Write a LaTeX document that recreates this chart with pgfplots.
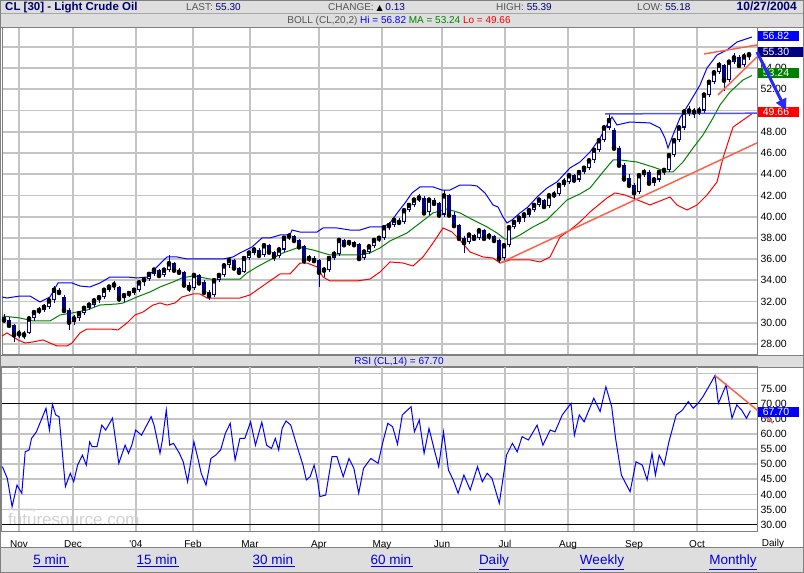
\documentclass[border=0pt]{standalone}
\usepackage{pgfplots}
\pgfplotsset{compat=1.18}
\usepackage{pgfplotstable}
\usetikzlibrary{arrows.meta}
\usepackage{fontspec}
\setmainfont{Liberation Sans}
\newfontfamily\dejavu{DejaVu Sans}
\definecolor{navy}{RGB}{0,0,128}
\definecolor{hdr}{RGB}{222,222,222}
\definecolor{gridgray}{RGB}{196,196,196}
\definecolor{frm}{RGB}{128,128,128}
\definecolor{bblue}{RGB}{0,0,255}
\definecolor{bgreen}{RGB}{0,128,0}
\definecolor{bred}{RGB}{255,0,0}
\definecolor{trend}{RGB}{250,100,75}
\definecolor{resblue}{RGB}{80,80,255}
\definecolor{lnk}{RGB}{0,0,230}
\definecolor{hgray}{RGB}{85,85,85}
\definecolor{hval}{RGB}{0,0,110}
\definecolor{wm}{RGB}{210,210,210}

\pgfplotstableread{
x o h l c
4 30.5 30.8 30.0 30.3
9 30.3 30.5 29.6 29.8
14 29.8 29.9 28.2 28.9
19 28.9 29.3 28.6 29.0
24 29.0 29.2 28.5 28.9
29 29.0 30.6 28.9 30.4
34 30.4 31.2 30.2 31.0
39 31.0 31.5 30.8 31.2
44 31.2 31.8 31.0 31.5
49 31.5 32.4 31.3 32.1
54 32.1 33.5 31.9 33.1
59 33.1 33.3 32.6 32.9
64 32.4 32.6 31.0 31.2
69 31.2 31.4 29.3 30.1
74 30.1 30.7 29.8 30.4
79 30.4 31.1 30.2 30.9
84 30.9 31.6 30.7 31.4
89 31.4 31.9 31.2 31.7
94 31.7 32.3 31.5 32.1
99 32.1 32.6 31.9 32.4
104 32.4 33.3 32.2 33.1
109 33.1 33.6 32.9 33.4
114 33.4 33.9 33.1 33.6
119 33.4 33.5 32.0 32.3
124 32.3 32.8 32.0 32.6
129 32.6 33.0 32.4 32.8
134 32.8 33.3 32.6 33.1
139 33.1 34.0 32.9 33.8
144 33.8 34.3 33.5 34.1
149 34.1 34.8 33.9 34.6
154 34.6 35.2 34.4 35.0
159 35.0 35.1 34.2 34.5
164 34.5 35.2 34.3 35.0
169 35.0 36.4 34.8 35.6
174 35.6 35.7 34.8 35.0
179 35.0 35.2 34.5 34.8
184 34.8 34.9 33.4 33.6
189 33.6 33.8 32.9 33.3
194 33.3 34.7 33.1 34.5
199 34.5 34.6 33.6 33.8
204 33.8 34.0 32.7 32.9
209 32.9 33.1 32.1 32.6
214 32.6 34.2 32.4 34.0
219 34.0 34.7 33.8 34.5
224 34.5 35.6 34.3 35.4
229 35.4 36.1 35.2 35.9
234 35.9 36.0 35.0 35.2
239 35.2 35.3 34.5 34.8
244 34.8 36.3 34.7 36.1
249 36.1 36.8 35.9 36.6
254 36.6 37.1 36.4 36.9
259 36.9 37.0 36.2 36.4
264 36.4 37.5 36.2 37.3
269 37.3 37.4 36.5 36.7
274 36.7 36.8 35.8 36.3
279 36.3 37.1 36.1 36.9
284 36.9 38.2 36.7 38.0
289 38.0 38.5 37.8 38.2
294 38.2 38.3 37.6 37.8
299 37.8 37.9 37.0 37.2
304 37.2 37.3 35.5 35.9
309 35.9 36.4 35.7 36.1
314 36.1 36.3 35.6 35.9
319 35.9 36.0 33.4 34.8
324 34.8 35.3 34.3 35.0
329 35.0 36.3 34.8 36.1
334 36.1 36.8 35.9 36.5
339 36.5 38.0 36.3 37.8
344 37.8 37.9 37.2 37.4
349 37.4 37.8 37.2 37.6
354 37.6 37.7 37.1 37.4
359 37.4 37.5 35.9 36.1
364 36.1 36.9 35.9 36.7
369 36.7 37.4 36.5 37.2
374 37.2 38.0 37.0 37.8
379 37.8 38.2 37.6 38.0
384 38.0 39.2 37.8 39.0
389 39.0 39.5 38.7 39.2
394 39.2 39.9 39.0 39.7
399 39.7 39.9 39.2 39.5
404 39.5 40.8 39.3 40.6
409 40.6 41.3 40.4 41.1
414 41.1 41.8 40.9 41.6
419 41.6 42.1 41.4 41.8
424 41.8 41.9 40.2 40.4
429 40.4 41.8 40.2 41.6
434 41.6 41.8 41.0 41.3
439 41.3 41.4 39.9 40.2
444 40.2 42.5 40.0 42.0
449 42.0 42.1 40.0 40.2
454 40.2 40.4 39.0 39.2
459 39.2 39.3 37.8 38.0
464 38.0 38.2 36.6 37.6
469 37.6 38.5 37.4 38.3
474 38.3 38.4 37.7 38.0
479 38.0 38.9 37.8 38.7
484 38.7 38.8 37.8 38.0
489 38.0 38.5 37.8 38.2
494 38.2 38.3 37.5 37.8
499 37.8 37.9 35.6 36.1
504 36.1 37.5 35.9 37.3
509 37.3 39.2 37.1 39.0
514 39.0 39.7 38.8 39.5
519 39.5 40.1 39.3 39.9
524 39.9 40.4 39.5 40.2
529 40.2 40.8 40.0 40.6
534 40.6 41.3 40.4 41.1
539 41.1 41.8 40.9 41.6
544 41.6 41.7 40.7 41.0
549 41.0 42.2 40.8 42.0
554 42.0 42.4 41.8 42.1
559 42.1 43.2 41.9 43.0
564 43.0 43.6 42.8 43.3
569 43.3 44.1 43.1 43.9
574 43.9 44.0 43.2 43.5
579 43.5 44.4 43.3 44.2
584 44.2 44.8 44.0 44.6
589 44.6 45.5 44.4 45.3
594 45.3 46.5 45.1 46.3
599 46.3 47.4 46.1 47.2
604 47.2 48.6 47.0 48.4
609 48.4 49.7 48.2 49.1
614 48.2 48.4 46.3 46.5
619 46.5 46.7 44.7 44.9
624 44.9 45.1 43.4 43.6
629 43.6 44.0 42.8 43.0
634 43.0 43.2 41.6 42.3
639 42.3 44.1 42.1 43.9
644 43.9 44.5 43.7 44.2
649 44.2 44.4 43.0 43.2
654 43.2 43.7 42.9 43.5
659 43.5 44.4 43.3 44.2
664 44.2 44.6 43.9 44.4
669 44.4 46.0 44.2 45.8
674 45.8 47.4 45.6 47.2
679 47.2 48.6 47.0 48.4
684 48.4 50.1 48.2 49.9
689 49.9 50.4 49.5 50.0
694 50.0 50.2 49.3 49.9
699 49.9 50.3 49.6 50.0
704 50.0 51.7 49.8 51.5
709 51.5 52.9 51.3 52.7
714 52.7 53.8 52.5 53.6
719 53.6 54.6 53.4 54.3
724 54.3 54.4 51.8 52.9
729 52.9 54.8 52.7 54.6
734 54.6 55.4 54.4 55.0
739 55.0 55.2 54.1 54.3
744 54.3 55.4 54.1 55.1
749 55.1 55.4 54.8 55.3
}\candles

\pgfplotstableread{
x y
2 32.43
7 32.33
20 32.52
30 32.52
40 31.96
50 32.43
58 33.75
72 33.75
80 33.46
90 33.37
100 33.75
110 34.31
127 34.31
137 34.22
147 34.31
157 35.26
167 36.20
177 36.20
187 36.01
200 36.01
223 36.01
233 36.20
240 36.58
252 37.14
262 37.99
270 37.99
280 38.27
290 38.27
292 38.74
300 38.55
317 38.55
323 38.93
337 38.93
350 38.74
360 38.74
370 39.03
383 39.03
390 39.40
398 40.44
405 41.29
412 42.23
420 42.80
433 42.80
442 42.51
450 42.51
460 42.98
470 42.98
477 42.89
485 42.23
493 41.10
498 40.91
503 39.97
507 39.40
512 39.69
520 40.35
528 40.91
537 41.85
547 42.70
557 43.27
570 44.59
580 45.15
590 46.09
600 47.41
607 48.64
612 49.39
617 48.64
630 48.92
650 48.83
660 48.36
665 47.41
668 46.47
673 47.70
680 49.30
690 50.81
700 52.41
707 54.01
717 55.24
727 55.71
737 56.46
752 56.93
}\bbup

\pgfplotstableread{
x y
2 30.64
20 30.45
33 30.17
50 30.17
60 30.73
72 30.92
87 31.20
100 31.67
117 31.77
123 31.86
137 32.43
150 32.90
160 33.37
173 33.84
182 34.22
193 34.41
200 34.31
210 34.12
240 34.12
247 34.69
257 35.26
270 35.92
283 36.58
297 37.05
303 37.05
313 36.86
323 36.58
330 36.39
357 36.39
370 36.58
380 37.05
390 37.71
407 38.46
420 39.40
433 40.35
447 40.72
460 40.35
473 39.69
487 39.03
497 38.46
505 37.89
512 37.89
520 38.27
533 39.03
547 39.69
557 40.63
567 41.57
580 42.14
590 42.70
603 44.21
613 45.34
620 45.34
637 45.15
653 44.68
667 44.21
673 44.21
683 45.15
693 46.47
703 47.70
713 49.30
720 50.52
730 51.75
743 52.88
752 53.30
}\bbmid

\pgfplotstableread{
x y
2 28.75
7 29.04
18 28.38
25 28.09
33 28.19
43 28.38
50 28.09
57 27.81
67 27.81
72 28.09
80 29.04
87 29.41
110 29.41
118 29.32
127 29.98
135 30.73
143 31.01
153 31.67
160 31.86
167 31.67
175 31.86
182 32.43
193 32.71
200 32.71
207 32.33
240 32.33
250 32.62
267 33.75
280 34.60
290 34.60
300 35.63
307 35.63
317 35.26
323 34.31
330 33.94
357 33.94
370 34.12
380 34.78
390 35.73
403 35.63
413 35.35
423 36.20
433 37.52
443 38.93
452 38.55
460 37.80
470 36.67
483 36.20
493 36.10
500 35.63
510 35.92
530 35.92
540 35.73
550 36.20
560 38.08
570 38.74
580 39.50
590 40.44
607 41.76
615 42.23
625 42.04
650 41.10
670 41.85
677 41.10
687 40.63
697 41.10
707 42.04
717 43.27
723 45.53
733 48.44
752 49.70
}\bblo

\pgfplotstableread{
x y
2.4 49.2
7.3 45.3
12.1 36.0
17.0 43.1
21.8 40.4
25.2 54.1
29.1 54.7
31.5 58.5
36.4 60.7
41.2 64.6
46.0 68.5
49.4 61.3
52.4 69.8
55.7 66.3
59.1 65.7
65.4 42.6
70.3 47.0
73.7 44.2
77.6 49.7
82.4 53.0
86.3 49.7
89.7 57.4
92.1 55.8
97.0 55.8
101.8 62.9
105.7 61.3
112.5 65.2
118.8 50.3
125.1 56.3
128.5 53.6
131.8 56.3
135.7 61.3
141.5 59.6
151.2 65.7
154.1 62.9
160.0 53.6
162.4 58.0
166.3 67.9
169.7 56.3
173.5 56.9
179.4 53.6
183.2 50.8
187.6 44.2
193.9 57.4
198.7 50.8
201.2 47.0
206.0 43.1
210.9 51.9
215.7 53.0
220.6 54.7
225.4 60.2
230.2 63.5
235.1 51.4
239.9 58.5
244.8 58.5
250.6 64.0
255.5 56.3
261.8 63.9
266.6 56.3
271.5 55.2
275.3 58.5
278.7 54.7
282.1 61.8
286.0 64.3
290.8 62.9
296.7 56.3
303.0 49.7
306.3 44.8
310.2 45.9
314.1 49.7
317.5 44.8
319.9 39.3
325.7 39.8
332.0 52.5
336.9 52.5
343.2 45.9
349.0 51.9
353.9 48.6
358.7 40.4
363.5 48.6
370.8 51.9
378.1 50.3
382.9 57.4
387.8 63.5
392.6 62.4
397.5 56.6
402.3 66.3
411.1 69.0
414.4 60.7
419.3 64.6
424.1 53.6
429.0 61.8
434.8 54.1
438.7 49.2
443.5 60.7
448.4 48.1
453.2 44.8
458.1 40.4
463.9 46.4
470.2 41.5
477.5 49.2
482.3 44.2
487.2 47.0
492.0 45.3
499.3 37.1
506.5 53.0
512.4 56.9
517.2 54.1
522.1 59.1
528.4 58.0
537.1 62.9
542.9 56.3
550.2 61.3
555.0 60.7
562.3 66.3
571.0 70.1
574.4 59.6
579.3 66.3
584.1 64.0
593.8 71.8
600.1 67.4
605.9 75.6
611.7 69.0
615.6 58.5
621.4 46.4
630.1 40.9
636.0 50.8
642.3 49.7
647.1 44.8
652.0 53.6
655.4 46.4
659.2 53.0
664.1 49.7
668.9 57.4
676.2 66.3
682.5 67.9
688.3 70.7
693.2 68.5
698.0 70.1
702.9 72.3
708.7 75.6
715.0 79.3
718.4 70.1
726.1 76.2
732.0 65.2
736.8 69.6
741.6 67.9
746.5 65.2
750.4 67.7
}\rsi

\newcommand{\tl}{\fontsize{10.5}{12}\selectfont}
\newcommand{\hd}{\fontsize{10}{12}\selectfont}

\pgfplotsset{
  chartax/.style={
    anchor=south west, scale only axis, width=755pt,
    xmin=2, xmax=757,
    xtick={19,73,136,193,250,319,382,442,505,568,634,697},
    yticklabel pos=right,
    y tick label style={anchor=west, font=\tl},
    tick style={draw=none},
    axis line style={draw=frm, line width=1pt},
    clip=false,
  }
}

\begin{document}
\begin{tikzpicture}[x=1pt,y=1pt]
\useasboundingbox (0,0) rectangle (804,573);
\fill[white] (0,0) rectangle (804,573);
% header bands
\fill[hdr] (0,545) rectangle (804,573);
\draw[frm!70, line width=1pt] (0,559) -- (804,559);
\draw[frm, line width=1pt] (0,545) -- (804,545);
\fill[hdr] (0,206) rectangle (804,218);
\draw[frm, line width=0.8pt] (0,218) -- (804,218);
\draw[frm, line width=0.8pt] (0,206) -- (804,206);
\fill[hdr] (0,0) rectangle (804,25);
\draw[frm, line width=1pt] (0,25) -- (804,25);
% grid of both panels (filled strips)
\foreach \gx in {19,73,136,193,250,319,382,442,505,568,634,697} {
  \fill[gridgray] ({\gx-0.9},218) rectangle ({\gx+0.9},545);
  \fill[gridgray] ({\gx-0.9},41) rectangle ({\gx+0.9},206);
}
\foreach \gp in {28,30,32,34,36,38,40,42,44,46,48,50,52,54,56}
  \fill[gridgray] (2,{218+(\gp-26.96)*10.610-0.9}) rectangle (757,{218+(\gp-26.96)*10.610+0.9});
\foreach \gr in {35,40,45,50,55,60,65,75,80}
  \fill[gridgray] (2,{41+(\gr-27.59)*3.0253-0.9}) rectangle (757,{41+(\gr-27.59)*3.0253+0.9});
% header text
\node[anchor=base west, inner sep=0, text=hval, font=\fontsize{11.5}{13}\selectfont\bfseries] at (5,562) {CL [30] - Light Crude Oil};
\node[anchor=base west, inner sep=0, font=\hd] at (186,562.5) {\textcolor{hgray}{LAST:} \textcolor{hval}{55.30}};
\node[anchor=base west, inner sep=0, font=\hd] at (328,562.5) {\textcolor{hgray}{CHANGE:} {\dejavu\fontsize{8}{9}\selectfont\textcolor{black}{▲}} \textcolor{hval}{0.13}};
\node[anchor=base west, inner sep=0, font=\hd] at (496,562.5) {\textcolor{hgray}{HIGH:} \textcolor{hval}{55.39}};
\node[anchor=base west, inner sep=0, font=\hd] at (637,562.5) {\textcolor{hgray}{LOW:} \textcolor{hval}{55.18}};
\node[anchor=base east, inner sep=0, text=hval, font=\fontsize{12}{14}\selectfont\bfseries] at (797,562) {10/27/2004};
\node[anchor=base, inner sep=0, font=\hd] at (399,549) {\textcolor{hgray}{BOLL (CL,20,2)} \textcolor{bblue}{Hi = 56.82} \textcolor{bgreen}{MA = 53.24} \textcolor{bred}{Lo = 49.66}};
\node[anchor=base, inner sep=0, font=\hd, text=bblue] at (399,208) {RSI (CL,14) = 67.70};
% watermark
\node[anchor=base west, inner sep=0, text=wm, font=\fontsize{5}{6}\selectfont] at (9,61) {Powered by};
\node[anchor=base west, inner sep=0, text=wm, font=\fontsize{17}{19}\selectfont] at (8,47) {futuresource.com};

% ---------------- main price panel
\begin{axis}[chartax,
  at={(2pt,218pt)},
  height=327pt,
  ymin=26.96, ymax=57.78,
  xticklabels={},
  ytick={28,30,...,56},
  yticklabels={28.00,30.00,32.00,34.00,36.00,38.00,40.00,42.00,44.00,46.00,48.00,{},52.00,54.00,{}},
]
\addplot[bblue, line width=1pt] table {\bbup};
\addplot[bgreen, line width=1pt] table {\bbmid};
\addplot[bred, line width=1pt] table {\bblo};
% wicks
\addplot[only marks, mark=none,
  error bars/.cd, y dir=both, y explicit, error mark=none,
  error bar style={draw=navy, line width=1pt}]
  table[x=x, y=c, y error plus expr={\thisrow{h}-\thisrow{c}}, y error minus expr={\thisrow{c}-\thisrow{l}}] {\candles};
% bodies
\addplot[only marks, mark=none,
  error bars/.cd, y dir=both, y explicit, error mark=none,
  error bar style={draw=navy, line width=3.5pt}]
  table[x=x, y=c, y error plus expr={max(\thisrow{o}-\thisrow{c},0)}, y error minus expr={max(\thisrow{c}-\thisrow{o},0)}] {\candles};
% hollow centre of rising candles
\addplot[only marks, mark=none,
  error bars/.cd, y dir=minus, y explicit, error mark=none,
  error bar style={draw=white, line width=1.3pt}]
  table[x=x, y expr={\thisrow{c}-0.1}, y error minus expr={max(\thisrow{c}-\thisrow{o}-0.2,0)}] {\candles};
% trend lines
\addplot[trend, line width=1.5pt] coordinates {(500,35.63) (757,46.95)};
\addplot[trend, line width=1.5pt] coordinates {(704,55.33) (757,56.18)};
\addplot[trend, line width=1.5pt] coordinates {(718,51.47) (757,55.05)};
\addplot[resblue, line width=1.5pt] coordinates {(605,49.68) (757,49.75)};
\end{axis}

% ---------------- RSI panel
\begin{axis}[chartax,
  at={(2pt,41pt)},
  height=165pt,
  ymin=27.59, ymax=82.13,
  xticklabels={Nov,Dec,\textquotesingle04,Feb,Mar,Apr,May,Jun,Jul,Aug,Sep,Oct},
  x tick label style={font=\hd, yshift=-5pt},
  ytick={30,35,...,80},
  yticklabels={30.00,35.00,40.00,45.00,50.00,55.00,60.00,65.00,70.00,75.00,{}},
]
\addplot[black, line width=1.5pt] coordinates {(2,70) (757,70)};
\addplot[black, line width=1.5pt] coordinates {(2,30) (757,30)};
\addplot[bblue, line width=1pt] table {\rsi};
\addplot[trend, line width=1.5pt] coordinates {(715,79.3) (773,63.6)};
\end{axis}

% right-hand value boxes
\fill[bblue] (758,532) rectangle (799,542);
\node[text=white, inner sep=0, font=\tl] at (776,537) {56.82};
\fill[navy] (758,516) rectangle (803,526);
\node[text=white, inner sep=0, font=\tl] at (776,521) {55.30};
\fill[bgreen] (758,495) rectangle (799,505);
\node[text=white, inner sep=0, font=\tl] at (776,500) {53.24};
\fill[bred] (758,456) rectangle (799,466);
\node[text=white, inner sep=0, font=\tl] at (776,461) {49.66};
\fill[bblue] (758,156) rectangle (799,166);
\node[text=white, inner sep=0, font=\tl] at (776,161) {67.70};
% arrow annotation
\draw[-{Triangle[length=11pt,width=11pt]}, line width=3pt, draw={rgb,255:red,40;green,40;blue,255}, fill={rgb,255:red,40;green,40;blue,255}] (757,521) -- (786,463);

% Daily label and links
\node[font=\hd, inner sep=0] at (773,29) {Daily};
\node[anchor=base, inner sep=0, text=lnk, font=\fontsize{13.5}{15}\selectfont] at (51,8) {\underline{5 min\,}};
\node[anchor=base, inner sep=0, text=lnk, font=\fontsize{13.5}{15}\selectfont] at (158,8) {\underline{15 min\,}};
\node[anchor=base, inner sep=0, text=lnk, font=\fontsize{13.5}{15}\selectfont] at (274,8) {\underline{30 min\,}};
\node[anchor=base, inner sep=0, text=lnk, font=\fontsize{13.5}{15}\selectfont] at (392,8) {\underline{60 min\,}};
\node[anchor=base, inner sep=0, text=lnk, font=\fontsize{13.5}{15}\selectfont] at (494,8) {\underline{Daily}};
\node[anchor=base, inner sep=0, text=lnk, font=\fontsize{13.5}{15}\selectfont] at (602,8) {\underline{Weekly}};
\node[anchor=base, inner sep=0, text=lnk, font=\fontsize{13.5}{15}\selectfont] at (733,8) {\underline{Monthly}};
\draw[frm, line width=1pt] (0.5,0.5) rectangle (803.5,572.5);
\end{tikzpicture}
\end{document}
